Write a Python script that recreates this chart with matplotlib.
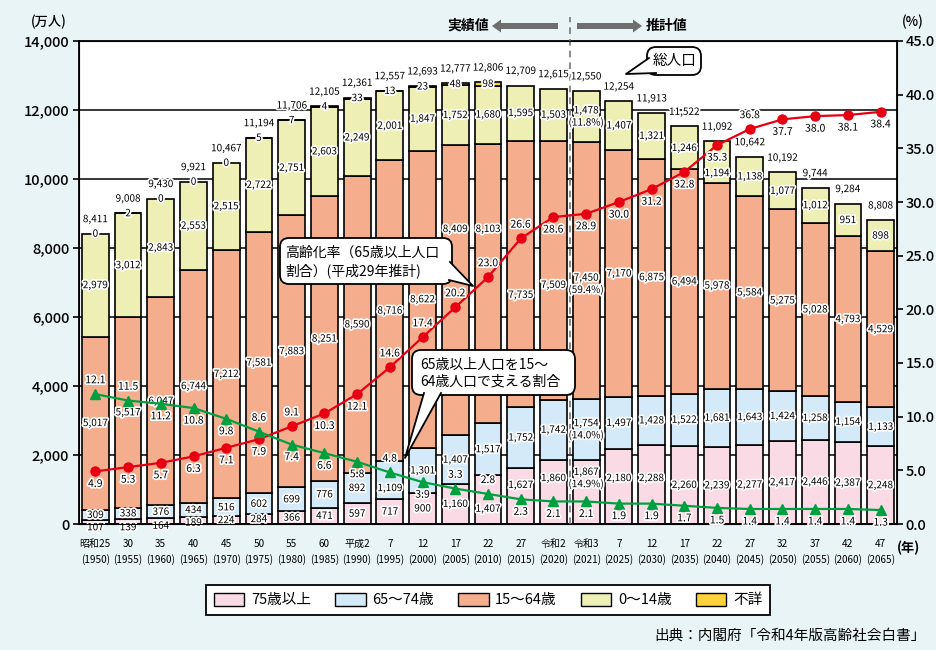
import numpy as np
import matplotlib
matplotlib.use("Agg")
import matplotlib.pyplot as plt
import matplotlib.patheffects as pe
from matplotlib.patches import FancyBboxPatch, Polygon, FancyArrow, Patch
from matplotlib.transforms import blended_transform_factory

plt.rcParams['font.family'] = ['Noto Sans CJK JP', 'DejaVu Sans']

# =========================
# データ
# =========================
era = ["昭和25", "30", "35", "40", "45", "50", "55", "60", "平成2", "7", "12", "17",
       "22", "27", "令和2", "令和3", "7", "12", "17", "22", "27", "32", "37", "42", "47"]
years = [1950, 1955, 1960, 1965, 1970, 1975, 1980, 1985, 1990, 1995, 2000, 2005,
         2010, 2015, 2020, 2021, 2025, 2030, 2035, 2040, 2045, 2050, 2055, 2060, 2065]

total = [8411, 9008, 9430, 9921, 10467, 11194, 11706, 12105, 12361, 12557, 12693, 12777,
         12806, 12709, 12615, 12550, 12254, 11913, 11522, 11092, 10642, 10192, 9744, 9284, 8808]
age75 = [107, 139, 164, 189, 224, 284, 366, 471, 597, 717, 900, 1160,
         1407, 1627, 1860, 1867, 2180, 2288, 2260, 2239, 2277, 2417, 2446, 2387, 2248]
age65 = [309, 338, 376, 434, 516, 602, 699, 776, 892, 1109, 1301, 1407,
         1517, 1752, 1742, 1754, 1497, 1428, 1522, 1681, 1643, 1424, 1258, 1154, 1133]
age15 = [5017, 5517, 6047, 6744, 7212, 7581, 7883, 8251, 8590, 8716, 8622, 8409,
         8103, 7735, 7509, 7450, 7170, 6875, 6494, 5978, 5584, 5275, 5028, 4793, 4529]
age0 = [2979, 3012, 2843, 2553, 2515, 2722, 2751, 2603, 2249, 2001, 1847, 1752,
        1680, 1595, 1503, 1478, 1407, 1321, 1246, 1194, 1138, 1077, 1012, 951, 898]
unknown = [0, 2, 0, 0, 0, 5, 7, 4, 33, 13, 23, 48, 98] + [None] * 12

aging_rate = [4.9, 5.3, 5.7, 6.3, 7.1, 7.9, 9.1, 10.3, 12.1, 14.6, 17.4, 20.2,
              23.0, 26.6, 28.6, 28.9, 30.0, 31.2, 32.8, 35.3, 36.8, 37.7, 38.0, 38.1, 38.4]
support = [12.1, 11.5, 11.2, 10.8, 9.8, 8.6, 7.4, 6.6, 5.8, 4.8, 3.9, 3.3,
           2.8, 2.3, 2.1, 2.1, 1.9, 1.9, 1.7, 1.5, 1.4, 1.4, 1.4, 1.4, 1.3]

# =========================
# 見た目
# =========================
bg = '#e8f4f5'
c75, c65, c15, c0, cunk = '#fadae4', '#d5eaf8', '#f4ae8e', '#eeefb5', '#fdd23a'
red, green = '#e60012', '#00a040'
halo = [pe.withStroke(linewidth=2.5, foreground='white')]
lab_fs = 7.2

# ラベル位置の調整（万人単位）
label_y = {
    ('15', 11): 8550, ('15', 12): 8550, ('15', 13): 6640, ('15', 14): 6930, ('15', 15): 6960,
    ('0', 19): 10170,
    ('65', 9): 1040,
    ('75', 0): -95, ('75', 1): -95, ('75', 2): -50, ('75', 3): 40,
    ('75', 12): 440, ('75', 13): 1130, ('75', 14): 1330, ('75', 15): 1330,
    ('75', 16): 1330, ('75', 17): 1330,
}
rate_pos = "bbbbbbabbaaaaabbbbbbabbbb"
supp_pos = "aabbbabbbabaabbbbbbbbbbbb"

W, H = 936, 650
fig = plt.figure(figsize=(W / 100, H / 100), dpi=100, facecolor=bg)
ax = fig.add_axes([79 / W, 1 - 524 / H, (897 - 79) / W, 483 / H])
ax.set_facecolor('white')
ax2 = ax.twinx()

x = np.arange(len(years))
bw = 0.82
bottom = np.zeros(len(years))
for vals, col, key in [(age75, c75, '75'), (age65, c65, '65'), (age15, c15, '15'), (age0, c0, '0')]:
    vals = np.array(vals, dtype=float)
    ax.bar(x, vals, bw, bottom=bottom, color=col, edgecolor='black', linewidth=1.2, zorder=2)
    for i, v in enumerate(vals):
        t = f"{int(v):,}"
        if i == 15:
            t += f"\n({v / total[i] * 100:.1f}%)"
        y = label_y.get((key, i), bottom[i] + v / 2)
        ax.text(i, y, t, ha='center', va='center', fontsize=lab_fs, linespacing=1.15,
                path_effects=halo, zorder=4, clip_on=False)
    bottom = bottom + vals

# 不詳
for i, u in enumerate(unknown):
    if u is None:
        continue
    if u > 0:
        ax.bar(i, u, bw, bottom=bottom[i], color=cunk, edgecolor='black', linewidth=1.2, zorder=2)
    ax.text(i, bottom[i] + u / 2, str(u), ha='center', va='center', fontsize=lab_fs,
            path_effects=halo, zorder=4)
    bottom[i] += u

# 総人口
for i, t in enumerate(total):
    ax.annotate(f"{t:,}", (i, bottom[i]), xytext=(0, 10.5), textcoords='offset points',
                ha='center', va='center', fontsize=lab_fs, path_effects=halo, zorder=4)

ax.set_xlim(-0.5, len(years) - 0.5)
ax.set_ylim(0, 14000)
ax.set_yticks(np.arange(0, 14001, 2000))
ax.set_yticklabels([f"{v:,}" for v in range(0, 14001, 2000)], fontsize=10.5, fontweight='medium')
ax.yaxis.grid(True, color='black', linewidth=1.1)
ax.set_axisbelow(True)
ax.set_xticks(x)
ax.set_xticklabels([f"{e}\n({y})" for e, y in zip(era, years)], fontsize=7.2, linespacing=1.5)
ax.tick_params(axis='x', length=0, pad=11)
ax.tick_params(axis='y', length=4, width=1.2, pad=3)
for s in ax.spines.values():
    s.set_linewidth(1.3)

# 実績値 / 推計値 の区切り
trans = blended_transform_factory(ax.transData, ax.transAxes)
ax.plot([14.5, 14.5], [0, (524 - 17) / 483], transform=trans, color='#777777',
        linewidth=1.2, linestyle=(0, (4, 3)), clip_on=False, zorder=3)

# 折れ線（右軸）
ax2.set_ylim(0, 45)
ax2.set_yticks(np.arange(0, 45.1, 5))
ax2.set_yticklabels([f"{v:.1f}" for v in np.arange(0, 45.1, 5)], fontsize=10.5, fontweight='medium')
ax2.tick_params(axis='y', length=4, width=1.2, pad=2)
ax2.plot(x, aging_rate, color=red, linewidth=1.6, marker='o', markersize=6.5, zorder=5)
ax2.plot(x, support, color=green, linewidth=1.6, marker='^', markersize=7.5, zorder=5)
for i in x:
    dy = 10 if rate_pos[i] == 'a' else -9
    ax2.annotate(f"{aging_rate[i]:.1f}", (i, aging_rate[i]), xytext=(0, dy), textcoords='offset points',
                 ha='center', va='center', fontsize=lab_fs + 0.3, path_effects=halo, zorder=6)
    dy = 10 if supp_pos[i] == 'a' else -9
    ax2.annotate(f"{support[i]:.1f}", (i, support[i]), xytext=(0, dy), textcoords='offset points',
                 ha='center', va='center', fontsize=lab_fs + 0.3, path_effects=halo, zorder=6)

# =========================
# 注記（ピクセル座標）
# =========================
ov = fig.add_axes([0, 0, 1, 1], zorder=10)
ov.set_xlim(0, W)
ov.set_ylim(H, 0)
ov.axis('off')
ov.patch.set_visible(False)

ov.text(49, 22, "(万人)", ha='center', va='center', fontsize=9.5, fontweight='medium')
ov.text(913, 22, "(%)", ha='center', va='center', fontsize=9.5, fontweight='medium')
ov.text(908, 548, "(年)", ha='center', va='center', fontsize=9.5, fontweight='bold')

ov.add_patch(FancyArrow(558, 26, -66, 0, width=6, head_width=13, head_length=9,
                        length_includes_head=True, color='#6e6e6e', linewidth=0))
ov.add_patch(FancyArrow(577, 26, 65, 0, width=6, head_width=13, head_length=9,
                        length_includes_head=True, color='#6e6e6e', linewidth=0))
ov.text(489, 26, "実績値", ha='right', va='center', fontsize=10, fontweight='bold')
ov.text(646, 26, "推計値", ha='left', va='center', fontsize=10, fontweight='bold')


def callout(x0, y0, x1, y1, b1, b2, tip, text, tx, ty, fs):
    ov.add_patch(FancyBboxPatch((x0, y0), x1 - x0, y1 - y0,
                                boxstyle='round,pad=0,rounding_size=9',
                                fc='white', ec='black', lw=1.3, zorder=1))
    ov.add_patch(Polygon([b1, tip, b2], closed=True, fc='white', ec='none', zorder=2))
    ov.plot([b1[0], tip[0], b2[0]], [b1[1], tip[1], b2[1]], color='black', lw=1.3, zorder=3)
    ov.text(tx, ty, text, ha='left', va='center', fontsize=fs, linespacing=1.3, zorder=4)


callout(647, 47, 701, 75, (649, 58), (656, 73), (626, 74), "総人口", 653, 61, 10.5)
callout(280, 238, 452, 284, (450, 262), (449, 280), (473, 286),
        "高齢化率（65歳以上人口\n割合）(平成29年推計)", 285, 262, 10)
callout(412, 350, 575, 395, (424, 393), (441, 393), (405, 458),
        "65歳以上人口を15～\n64歳人口で支える割合", 420, 373, 10)

# 凡例
handles = [Patch(facecolor=c, edgecolor='black', linewidth=1.0) for c in [c75, c65, c15, c0, cunk]]
labels = ["75歳以上", "65～74歳", "15～64歳", "0～14歳", "不詳"]
leg = fig.legend(handles, labels, loc='center', bbox_to_anchor=(488 / W, 1 - 600 / H), ncol=5,
                 fontsize=10.5, frameon=True, fancybox=False, edgecolor='black', framealpha=1,
                 handlelength=2.1, handleheight=0.96, handletextpad=0.45, columnspacing=1.65,
                 borderpad=0.55)
leg.get_frame().set_linewidth(1.3)

fig.text(926 / W, 1 - 636 / H, "出典：内閣府「令和4年版高齢社会白書」", ha='right', va='center', fontsize=10.5)

fig.savefig("out.png", dpi=100, facecolor=bg)
